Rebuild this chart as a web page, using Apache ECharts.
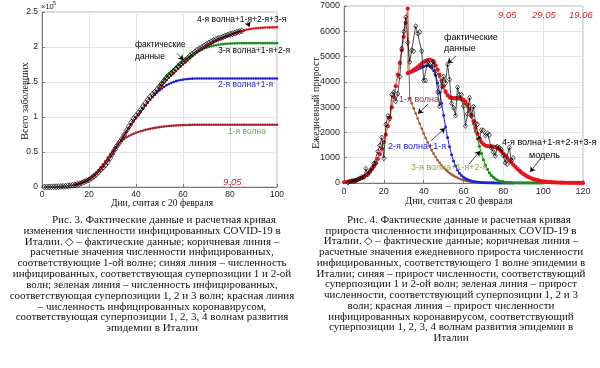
<!DOCTYPE html>
<html><head><meta charset="utf-8">
<script src="https://cdn.jsdelivr.net/npm/echarts@6/dist/echarts.min.js"></script>
<style>html,body{margin:0;padding:0;background:#fff}#c{width:600px;height:368px}</style>
</head><body><div id="c"></div>
<script>
// ---------- Fig. 3: cumulative (values in persons) ----------
const f3ActualStart = 1;
const f3Actual = [3, 20, 79, 157, 229, 323, 470, 655, 889, 1128,
  1694, 2036, 2502, 3089, 3858, 4636, 5883, 7375, 9172, 10149,
  12462, 15113, 17660, 21157, 24747, 27980, 31506, 35713, 41035, 47021,
  53578, 59138, 63927, 69176, 74386, 80589, 86498, 92472, 97689, 101739,
  105792, 110574, 115242, 119827, 124632, 128948, 132547, 135586, 139422, 143626,
  147577, 152271, 156363, 159516, 162488, 165155, 168941, 172434, 175925, 178972,
  181228, 183957, 187327, 189973, 192994, 195351, 197675, 199414, 201505, 203591,
  205463, 207428, 209328, 210717, 211938, 213013, 214457, 215858, 217185, 218268,
  219070, 219814, 221216, 222104, 223096];
const f3Wave1Start = 14;
const f3Wave1 = [3100, 3900, 4900, 6100, 7600, 9400, 11500, 14000, 16900, 20200,
  24000, 28100, 32500, 37200, 42000, 46800, 51500, 55900, 59800, 63200,
  66200, 68800, 71000, 72900, 74600, 76100, 77400, 78600, 79700, 80700,
  81600, 82400, 83100, 83800, 84400, 85000, 85500, 86000, 86400, 86800,
  87100, 87400, 87700, 87900, 88100, 88300, 88400, 88500, 88600, 88700,
  88800, 88850, 88900, 88950, 89000, 89000, 89000, 89000, 89000, 89000,
  89000, 89000, 89000, 89000, 89000, 89000, 89000, 89000, 89000, 89000,
  89000, 89000, 89000, 89000, 89000, 89000, 89000, 89000, 89000, 89000,
  89000, 89000, 89000, 89000, 89000, 89000, 89000];
const f3Wave12Start = 30;
const f3Wave12 = [47000, 53000, 59000, 64200, 69300, 74400, 79500, 84600, 89700, 94500,
  99000, 103400, 107800, 112200, 116500, 120700, 124600, 128200, 131600, 134800,
  137800, 140600, 143100, 145300, 147200, 148800, 150100, 151200, 152100, 152800,
  153400, 153900, 154300, 154600, 154800, 155000, 155100, 155100, 155100, 155100,
  155100, 155100, 155100, 155100, 155100, 155100, 155100, 155100, 155100, 155100,
  155100, 155100, 155100, 155100, 155100, 155100, 155100, 155100, 155100, 155100,
  155100, 155100, 155100, 155100, 155100, 155100, 155100, 155100, 155100, 155100,
  155100];
const f3Wave123Start = 50;
const f3Wave123 = [145000, 149500, 153800, 157800, 161500, 165000, 168300, 171400, 174300, 177000,
  179600, 182100, 184500, 186800, 189000, 191100, 193000, 194800, 196400, 197800,
  199000, 200100, 201100, 201900, 202600, 203200, 203700, 204100, 204400, 204700,
  204900, 205100, 205200, 205300, 205400, 205500, 205500, 205500, 205500, 205500,
  205500, 205500, 205500, 205500, 205500, 205500, 205500, 205500, 205500, 205500,
  205500];
const f3Wave1234Start = 14;
const f3Wave1234 = [3000, 3800, 4800, 6000, 7400, 9000, 10900, 13100, 15600, 18400,
  21600, 25100, 29000, 33200, 37800, 42700, 47800, 53000, 58200, 63400,
  68600, 73800, 79000, 84100, 89000, 93700, 98200, 102600, 107000, 111500,
  116000, 120400, 124700, 128900, 133000, 137000, 141000, 145000, 148900, 152600,
  156100, 159400, 162600, 165700, 168800, 171900, 175000, 178000, 181000, 183900,
  186700, 189400, 192000, 194500, 196900, 199100, 201200, 203200, 205100, 206900,
  208600, 210200, 211700, 213100, 214500, 215800, 217100, 218400, 219600, 220800,
  221900, 222900, 223800, 224600, 225300, 225900, 226400, 226800, 227100, 227400,
  227600, 227800, 227900, 228000, 228100, 228100, 228200];
const f3YTicks = ['0', '0.5', '1', '1.5', '2', '2.5'];

// ---------- Fig. 4: daily increase ----------
const f4ActualStart = 2;
const f4Actual = [17, 59, 78, 72, 94, 147, 185, 234, 239, 566,
  342, 466, 587, 769, 778, 1247, 1492, 1797, 977, 2313,
  2651, 2547, 3497, 3590, 3233, 3526, 4207, 5322, 5986, 6557,
  5560, 4789, 5249, 5210, 6203, 5909, 5974, 5217, 4050, 4053,
  4782, 4668, 4585, 4805, 4316, 3599, 3039, 3836, 4204, 3951,
  4694, 4092, 3153, 2972, 2667, 3786, 3493, 3491, 3047, 2256,
  2729, 3370, 2646, 3021, 2357, 2324, 1739, 2091, 2086, 1872,
  1965, 1900, 1389, 1221, 1075, 1444, 1401, 1327, 1083, 802,
  744, 1402, 888, 992];
const f4RiseStart = 0;
const f4Rise = [30, 40, 50, 60, 75, 90, 110, 135, 165, 200,
  245, 300, 365, 445, 540, 655, 790, 950, 1140, 1360,
  1620, 1910, 2240, 2600, 2990, 3400, 3830, 4280, 4750, 5250,
  5780, 6330, 6900];
const f4Wave1TailStart = 33;
const f4Wave1Tail = [3350, 3150, 2950, 2750, 2550, 2350, 2150, 1960, 1780, 1610,
  1450, 1300, 1160, 1030, 910, 800, 700, 610, 530, 460,
  395, 340, 290, 245, 205, 170, 140, 115, 95, 78,
  64, 52, 42, 34, 27, 21, 16, 12, 9, 7,
  5, 4, 3];
const f4Wave12Start = 32;
const f4Wave12 = [4330, 4360, 4390, 4420, 4460, 4500, 4540, 4580, 4610, 4640,
  4650, 4630, 4570, 4450, 4250, 3950, 3580, 3150, 2680, 2220,
  1800, 1430, 1120, 870, 670, 510, 390, 300, 230, 175,
  135, 105, 80, 62, 48, 37, 29, 22, 17, 13,
  10, 8, 6, 5, 4, 3, 2, 2, 1, 1,
  1, 1, 1, 1];
const f4Wave123Start = 48;
const f4Wave123 = [4200, 3980, 3760, 3570, 3440, 3370, 3340, 3330, 3330, 3330,
  3320, 3290, 3240, 3150, 3020, 2850, 2620, 2350, 2050, 1750,
  1450, 1170, 920, 710, 540, 400, 300, 220, 160, 115,
  80, 58, 42, 30, 22, 16, 12, 9, 7, 5,
  4, 3, 2, 1, 1, 1, 1, 1, 1, 1,
  1, 1, 1];
const f4ModelTailStart = 32;
const f4ModelTail = [4350, 4380, 4420, 4470, 4520, 4580, 4650, 4720, 4780, 4830,
  4860, 4870, 4850, 4780, 4650, 4480, 4280, 4050, 3820, 3620,
  3480, 3400, 3370, 3360, 3360, 3360, 3350, 3330, 3290, 3220,
  3100, 2930, 2700, 2450, 2180, 1950, 1760, 1620, 1530, 1480,
  1460, 1450, 1450, 1440, 1420, 1380, 1320, 1250, 1170, 1080,
  990, 900, 810, 720, 640, 560, 490, 420, 360, 310,
  260, 220, 185, 155, 130, 110, 90, 75, 62, 52,
  44, 37, 31, 26, 22, 19, 16, 14, 12, 10,
  9, 8, 7, 6, 5, 5, 4, 4, 3];

const caption3 = [
  'Рис. 3. Фактические данные и расчетная кривая',
  'изменения численности инфицированных COVID-19 в',
  'Италии. ◇ – фактические данные; коричневая линия –',
  'расчетные значения численности инфицированных,',
  'соответствующие 1-ой волне; синяя линия – численность',
  'инфицированных, соответствующая суперпозиции 1 и 2-ой',
  'волн; зеленая линия – численность инфицированных,',
  'соответствующая суперпозиции 1, 2 и 3 волн; красная линия',
  '– численность инфицированных коронавирусом,',
  'соответствующая суперпозиции 1, 2, 3, 4 волнам развития',
  'эпидемии в Италии'];
const caption4 = [
  'Рис. 4. Фактические данные и расчетная кривая',
  'прироста численности инфицированных COVID-19 в',
  'Италии. ◇ – фактические данные; коричневая линия –',
  'расчетные значения ежедневного прироста численности',
  'инфицированных, соответствующего 1 волне эпидемии в',
  'Италии; синяя – прирост численности, соответствующий',
  'суперпозиции 1 и 2-ой волн; зеленая линия – прирост',
  'численности, соответствующий суперпозиции 1, 2 и 3',
  'волн; красная линия – прирост численности',
  'инфицированных коронавирусом, соответствующий',
  'суперпозиции 1, 2, 3, 4 волнам развития эпидемии в',
  'Италии'];

// arrows (data coordinates: [start],[end])
const f3Arrows = [[[57.4, 191000], [60.2, 181500]], [[87.4, 236000], [88.3, 228600]]];
const f4Arrows = [[[56.2, 5020], [52.0, 4730]], [[42.1, 3120], [37.2, 2740]],
  [[43.6, 1660], [50.7, 2170]], [[62.8, 750], [68.3, 1265]], [[98.5, 950], [93.5, 435]]];

const SANS = '"Liberation Sans", Arial, sans-serif';
const SERIF = '"Liberation Serif", "Times New Roman", serif';

function pairs(start, arr) { return arr.map((v, i) => [start + i, v]); }

function xAxis(gi, max, fs, margin) {
  return { type: 'value', gridIndex: gi, min: 0, max: max, interval: 20,
    axisLine: { show: true, onZero: false, lineStyle: { color: '#7a7a7a', width: 1 } },
    axisTick: { show: true, inside: true, length: 3, lineStyle: { color: '#7a7a7a' } },
    axisLabel: { color: '#262626', fontSize: fs, fontFamily: SANS, margin: margin },
    splitLine: { show: true, lineStyle: { color: '#e3e3e3', width: 1 } } };
}
function yAxis(gi, max, interval, fs, fmt) {
  return { type: 'value', gridIndex: gi, min: 0, max: max, interval: interval,
    axisLine: { show: true, onZero: false, lineStyle: { color: '#7a7a7a', width: 1 } },
    axisTick: { show: true, inside: true, length: 3, lineStyle: { color: '#7a7a7a' } },
    axisLabel: { color: '#262626', fontSize: fs, fontFamily: SANS, margin: 4, formatter: fmt },
    splitLine: { show: true, lineStyle: { color: '#e3e3e3', width: 1 } } };
}
function model(gi, data, color, size, lineColor, z) {
  return { type: 'line', xAxisIndex: gi, yAxisIndex: gi, data: data,
    symbol: 'circle', symbolSize: size, showSymbol: true, showAllSymbol: true,
    itemStyle: { color: color }, lineStyle: { color: lineColor || color, width: 1 },
    animation: false, silent: true, z: z || 2 };
}
function arrowsML(list) {
  return { silent: true, symbol: ['none', 'arrow'], symbolSize: 5, animation: false,
    label: { show: false }, lineStyle: { color: '#000', width: 0.7, type: 'solid' },
    emphasis: { disabled: true },
    data: list.map(a => [{ coord: a[0] }, { coord: a[1] }]) };
}
function actual(gi, data, arrows, size) {
  return { type: 'line', xAxisIndex: gi, yAxisIndex: gi, data: data,
    symbol: 'diamond', symbolSize: size, showSymbol: true, showAllSymbol: true,
    itemStyle: { color: 'rgba(255,255,255,0)', borderColor: '#000', borderWidth: 0.7 },
    lineStyle: { color: '#000', width: 0.7 }, animation: false, silent: true, z: 4,
    markLine: arrowsML(arrows) };
}
function txt(x, y, s, font, fill, align, rot) {
  return { type: 'text', x: x, y: y, rotation: rot || 0, silent: true, z: 100,
    style: { text: s, font: font, fill: fill || '#000',
      textAlign: align || 'left', align: align || 'left',
      textVerticalAlign: 'middle', verticalAlign: 'middle' } };
}

const F3 = '8.5px ' + SANS, F4 = '9px ' + SANS;
const graphics = [
  txt(41, 6.5, '×10', '7.5px ' + SANS, '#262626'),
  txt(53, 3, '5', '5.5px ' + SANS, '#262626'),
  txt(135, 45, 'фактические', F3),
  txt(135, 57, 'данные', F3),
  txt(197, 19.5, '4-я волна+1-я+2-я+3-я', F3),
  txt(218, 51, '3-я волна+1-я+2-я', F3),
  txt(218, 84.5, '2-я волна+1-я', F3, '#1f22d6'),
  txt(228, 132, '1-я волна', F3, '#6aa846'),
  txt(223, 182, '9.05', 'italic 9.5px ' + SANS, '#d41f2a'),
  txt(25, 101, 'Всего заболевших', '10px ' + SERIF, '#111', 'center', Math.PI / 2),
  txt(162, 203, 'Дни, считая с 20 февраля', '9.5px ' + SERIF, '#111', 'center'),
  txt(498, 15, '9.05', 'italic 9.5px ' + SANS, '#d41f2a'),
  txt(532, 15, '29.05', 'italic 9.5px ' + SANS, '#d41f2a'),
  txt(569, 15, '19.06', 'italic 9.5px ' + SANS, '#d41f2a'),
  txt(444, 37.5, 'фактические', F4),
  txt(444, 48.5, 'данные', F4),
  txt(399, 99.5, '1-я волна', F4, '#a3305e'),
  txt(388, 146.5, '2-я волна+1-я', F4, '#1f22d6'),
  txt(411, 168, '3-я волна+1-я+2-я', F4, '#86ad45'),
  txt(502, 143, '4-я волна+1-я+2-я+3-я', F4),
  txt(529, 156, 'модель', F4),
  txt(316, 103, 'Ежедневный прирост', '10px ' + SERIF, '#111', 'center', Math.PI / 2),
  txt(459, 201, 'Дни, считая с 20 февраля', '10px ' + SERIF, '#111', 'center')
];
const CF = '11px ' + SERIF;
caption3.forEach((s, i) => {
  graphics.push(i === 0 ? txt(52, 220 + i * 10.83, s, CF, '#111') : txt(152, 220 + i * 10.83, s, CF, '#111', 'center'));
});
caption4.forEach((s, i) => {
  graphics.push(i === 0 ? txt(347, 220 + i * 10.75, s, CF, '#111') : txt(451, 220 + i * 10.75, s, CF, '#111', 'center'));
});

const chart = echarts.init(document.getElementById('c'), null, { renderer: 'canvas' });
chart.setOption({
  animation: false,
  backgroundColor: '#fff',
  grid: [
    { left: 42, top: 12, width: 235, height: 175, show: true, borderColor: '#b5b5b5', borderWidth: 1, backgroundColor: 'transparent' },
    { left: 344, top: 6, width: 239, height: 177, show: true, borderColor: '#b5b5b5', borderWidth: 1, backgroundColor: 'transparent' }
  ],
  xAxis: [xAxis(0, 100, 8.5, 3), xAxis(1, 120, 9, 4)],
  yAxis: [
    yAxis(0, 250000, 50000, 8.5, (v) => f3YTicks[Math.round(v / 50000)]),
    yAxis(1, 7000, 1000, 9, (v) => String(v))
  ],
  series: [
    model(0, pairs(f3Wave1Start, f3Wave1), '#a3232b', 2.6),
    model(0, pairs(f3Wave12Start, f3Wave12), '#1f22d6', 2.6),
    model(0, pairs(f3Wave123Start, f3Wave123), '#1e8b22', 2.6),
    model(0, pairs(f3Wave1234Start, f3Wave1234), '#e3161d', 2.6),
    actual(0, pairs(f3ActualStart, f3Actual), f3Arrows, [5, 6]),
    model(1, pairs(f4RiseStart, f4Rise).concat(pairs(f4Wave1TailStart, f4Wave1Tail)), '#a5522e', 2.6),
    model(1, pairs(f4Wave12Start, f4Wave12), '#1f22d6', 3),
    model(1, pairs(f4Wave123Start, f4Wave123), '#1e8b22', 3.2),
    model(1, pairs(f4RiseStart, f4Rise).concat(pairs(f4ModelTailStart, f4ModelTail)), '#e8141c', 4.2, '#f07a7a', 3),
    actual(1, pairs(f4ActualStart, f4Actual), f4Arrows, [4, 5])
  ],
  graphic: { elements: graphics }
});
</script></body></html>
